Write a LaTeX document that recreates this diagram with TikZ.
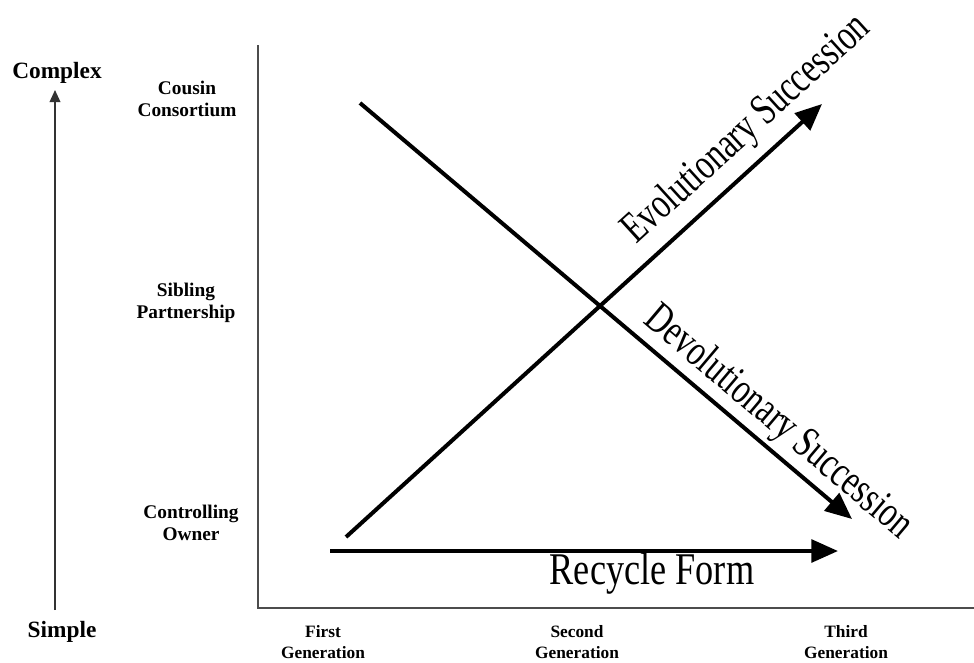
\documentclass[tikz,border=0pt]{standalone}
\usepackage{fontspec}
\setmainfont{Liberation Serif}
\usetikzlibrary{arrows.meta}
\begin{document}
\begin{tikzpicture}[x=0.75pt,y=-0.75pt,
  axisline/.style={line width=1.5pt,draw=black!70},
  scaleline/.style={line width=1.1pt,draw=black!80,-{Triangle[length=9pt,width=8pt]}},
  bigarrow/.style={line width=3pt,-{Triangle[length=20pt,width=17pt]}},
  levellabel/.style={font=\bfseries\fontsize{14.5}{17}\selectfont,align=center,inner sep=0pt},
  genlabel/.style={font=\bfseries\fontsize{13}{16}\selectfont,align=center,inner sep=0pt},
  endlabel/.style={font=\bfseries\fontsize{17.5}{20}\selectfont,inner sep=0pt},
  pathlabel/.style={font=\fontsize{33}{36}\selectfont,inner sep=0pt}]
\useasboundingbox (0,0) rectangle (974,662);

% complexity scale on the left
\node[endlabel] (complex) at (57,73) {Complex};
\node[endlabel] (simple) at (62,632) {Simple};
\coordinate (scalebot) at (55,610);
\coordinate (scaletop) at (55,90);
\draw[scaleline] (scalebot) -- (scaletop);

% axes
\coordinate (ytop) at (258,45);
\coordinate (origin) at (258,608);
\coordinate (xend) at (974,608);
\draw[axisline] (ytop) -- (origin) -- (xend);

% ownership forms
\node[levellabel] (cousin) at (187,99) {Cousin\\Consortium};
\node[levellabel] (sibling) at (186,303) {Sibling\\Partnership};
\node[levellabel] (owner) at (191,523) {Controlling\\Owner};

% generations
\node[genlabel] (gen1) at (323,642) {First\\Generation};
\node[genlabel] (gen2) at (577,642) {Second\\Generation};
\node[genlabel] (gen3) at (846,642) {Third\\Generation};

% succession paths
\coordinate (evoS) at (346,537);
\coordinate (evoE) at (822,104);
\coordinate (devS) at (360,103);
\coordinate (devE) at (852,519);
\coordinate (recS) at (330,551);
\coordinate (recE) at (838,551);

\draw[bigarrow] (evoS) -- (evoE);
\draw[bigarrow] (devS) -- (devE);
\draw[bigarrow] (recS) -- (recE);

\node[pathlabel,rotate=42.3,xscale=0.73] (evolabel) at (747,130) {Evolutionary Succession};
\node[pathlabel,rotate=-40.2,xscale=0.73] (devlabel) at (778,423) {Devolutionary Succession};
\node[pathlabel,font=\fontsize{34}{37}\selectfont,xscale=0.8] (reclabel) at (652,574) {Recycle Form};
\end{tikzpicture}
\end{document}
